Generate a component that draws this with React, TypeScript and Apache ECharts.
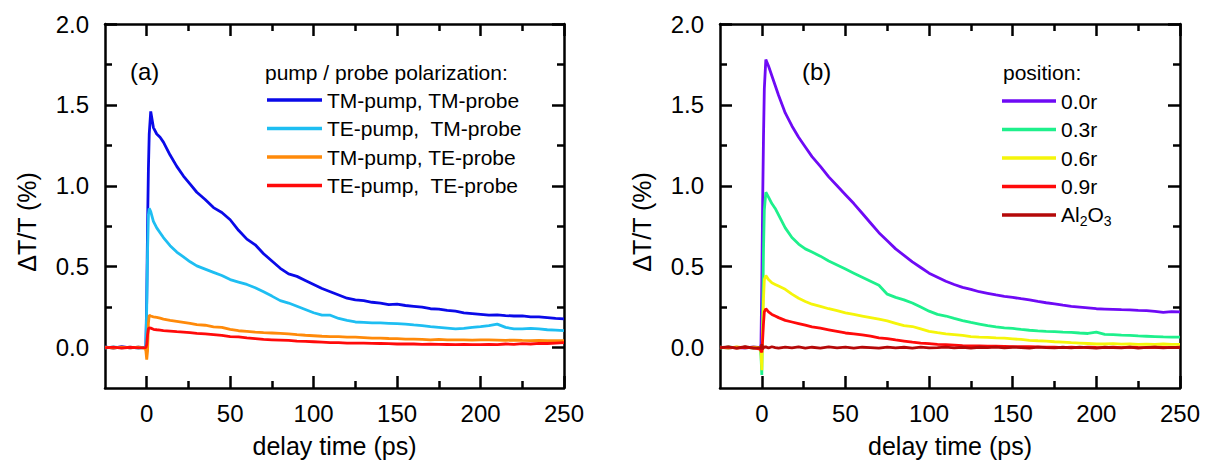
import React, { useEffect, useRef } from "react";
import * as echarts from "echarts";

const FONT = '"Liberation Sans", Arial, Helvetica, sans-serif';

// delay time grid (ps), shared by all curves
const delayTime = [
  -25, -20, -15, -10, -5, -1, -0.5, 0, 0.5, 1, 1.5, 2.4,
  4, 6, 8, 10, 14, 18, 22, 26, 30,
  35, 40, 45, 50, 55, 60, 65, 70, 75, 80,
  85, 90, 95, 100, 105, 110, 115, 120, 125, 130,
  135, 140, 145, 150, 155, 160, 165, 170, 175, 180,
  185, 190, 195, 200, 205, 210, 215, 220, 225, 230,
  235, 240, 245, 250,
];

// panel (a): pump / probe polarization, ΔT/T (%)
const tmPumpTmProbe = [
  0.004, -0.003, 0.005, -0.002, 0.003, 0.0, 0.01, 0.3, 0.75, 1.1, 1.32, 1.46,
  1.36, 1.32, 1.3, 1.27, 1.19, 1.12, 1.06, 1.01, 0.96,
  0.915, 0.865, 0.835, 0.79, 0.725, 0.67, 0.635, 0.58, 0.535, 0.49,
  0.455, 0.44, 0.415, 0.39, 0.365, 0.345, 0.325, 0.305, 0.295, 0.29,
  0.28, 0.275, 0.265, 0.268, 0.26, 0.255, 0.25, 0.24, 0.238, 0.23,
  0.225, 0.215, 0.21, 0.205, 0.2, 0.202, 0.198, 0.195, 0.196, 0.19,
  0.19, 0.185, 0.18, 0.177,
];
const tePumpTmProbe = [
  -0.003, 0.004, -0.002, 0.003, -0.004, 0.0, 0.01, 0.25, 0.6, 0.82, 0.86, 0.84,
  0.78, 0.74, 0.71, 0.68, 0.63, 0.59, 0.56, 0.53, 0.505,
  0.485, 0.465, 0.445, 0.42, 0.405, 0.39, 0.37, 0.345, 0.318, 0.29,
  0.275, 0.255, 0.235, 0.215, 0.2, 0.2, 0.18, 0.168, 0.158, 0.156,
  0.153, 0.152, 0.15, 0.148, 0.145, 0.14, 0.136, 0.13, 0.125, 0.12,
  0.115, 0.118, 0.125, 0.13, 0.136, 0.145, 0.125, 0.115, 0.115, 0.118,
  0.115, 0.11, 0.108, 0.105,
];
const tmPumpTeProbe = [
  0.002, -0.004, 0.003, -0.002, 0.002, -0.005, -0.02, -0.075, -0.02, 0.15, 0.2, 0.195,
  0.19, 0.186, 0.182, 0.176, 0.168, 0.162, 0.156, 0.15, 0.142,
  0.138, 0.128, 0.125, 0.112, 0.104, 0.1, 0.095, 0.092, 0.09, 0.088,
  0.085, 0.08, 0.076, 0.073, 0.07, 0.068, 0.067, 0.065, 0.064, 0.062,
  0.058, 0.058, 0.056, 0.055, 0.052, 0.052, 0.05, 0.048, 0.05, 0.048,
  0.047, 0.048, 0.046, 0.048, 0.047, 0.046, 0.045, 0.046, 0.044, 0.043,
  0.044, 0.042, 0.043, 0.042,
];
const tePumpTeProbe = [
  -0.002, 0.003, -0.003, 0.002, -0.002, 0.0, 0.0, 0.02, 0.08, 0.115, 0.122, 0.12,
  0.113, 0.11, 0.108, 0.105, 0.102, 0.098, 0.095, 0.092, 0.088,
  0.085, 0.08, 0.075, 0.068, 0.066, 0.06, 0.055, 0.05, 0.048, 0.046,
  0.044, 0.04, 0.038, 0.036, 0.033, 0.03, 0.03, 0.028, 0.027, 0.027,
  0.026, 0.025, 0.024, 0.022, 0.022, 0.022, 0.02, 0.021, 0.02, 0.019,
  0.018, 0.019, 0.018, 0.018, 0.02, 0.018, 0.022, 0.02, 0.024, 0.022,
  0.026, 0.025, 0.028, 0.03,
];

// panel (b): position, ΔT/T (%)
const pos00r = [
  0.003, -0.004, 0.002, -0.003, 0.004, 0.0, 0.02, 0.4, 0.9, 1.3, 1.6, 1.78,
  1.74, 1.68, 1.62, 1.56, 1.45, 1.37, 1.3, 1.24, 1.18,
  1.12, 1.055, 1.0, 0.945, 0.89, 0.83, 0.77, 0.71, 0.66, 0.61,
  0.57, 0.53, 0.495, 0.46, 0.435, 0.41, 0.39, 0.372, 0.36, 0.345,
  0.335, 0.325, 0.317, 0.31, 0.302, 0.295, 0.285, 0.277, 0.27, 0.262,
  0.255, 0.25, 0.245, 0.24, 0.238, 0.236, 0.234, 0.233, 0.23, 0.228,
  0.224, 0.218, 0.222, 0.22,
];
const pos03r = [
  -0.003, 0.004, -0.002, 0.003, -0.003, 0.0, -0.05, -0.17, 0.2, 0.6, 0.85, 0.96,
  0.93, 0.89, 0.86, 0.82, 0.74, 0.68, 0.64, 0.61, 0.59,
  0.565, 0.535, 0.51, 0.485, 0.46, 0.435, 0.41, 0.385, 0.33, 0.31,
  0.295, 0.275, 0.25, 0.225, 0.205, 0.195, 0.18, 0.167, 0.155, 0.145,
  0.135, 0.128, 0.122, 0.118, 0.112, 0.107, 0.103, 0.1, 0.098, 0.095,
  0.094, 0.09, 0.087, 0.095, 0.082, 0.08, 0.077, 0.075, 0.072, 0.07,
  0.068, 0.066, 0.065, 0.064,
];
const pos06r = [
  0.002, -0.003, 0.004, -0.002, 0.003, 0.0, -0.03, -0.14, 0.1, 0.3, 0.42, 0.445,
  0.42, 0.4, 0.39, 0.38, 0.36, 0.33, 0.305, 0.285, 0.268,
  0.255, 0.24, 0.228, 0.215, 0.205, 0.195, 0.185, 0.175, 0.165, 0.15,
  0.135, 0.13, 0.115, 0.1, 0.092, 0.085, 0.08, 0.075, 0.068, 0.065,
  0.063, 0.06, 0.058, 0.054, 0.05, 0.045, 0.042, 0.04, 0.036, 0.034,
  0.03, 0.028, 0.025, 0.022, 0.022, 0.024, 0.021, 0.022, 0.02, 0.021,
  0.02, 0.022, 0.02, 0.02,
];
const pos09r = [
  -0.002, 0.003, -0.003, 0.002, -0.002, -0.01, -0.02, -0.03, 0.05, 0.15, 0.22, 0.24,
  0.22, 0.205, 0.195, 0.185, 0.168, 0.158, 0.148, 0.138, 0.128,
  0.12, 0.11, 0.1, 0.09, 0.085, 0.078, 0.07, 0.06, 0.055, 0.047,
  0.04, 0.033, 0.028, 0.024, 0.02, 0.018, 0.015, 0.012, 0.011, 0.01,
  0.009, 0.008, 0.007, 0.006, 0.006, 0.005, 0.004, 0.003, 0.002, 0.0,
  0.002, 0.0, 0.003, 0.001, 0.0, 0.002, 0.0, 0.003, 0.001, 0.0,
  0.002, 0.001, 0.0, 0.002,
];
const al2o3 = [
  0.0, 0.004, -0.003, 0.005, -0.004, 0.0, -0.01, 0.02, -0.012, 0.008, 0.0, 0.004,
  -0.003, 0.005, 0.0, -0.004, 0.003, -0.002, 0.004, -0.003, 0.002,
  -0.003, 0.004, -0.002, 0.003, -0.004, 0.002, 0.0, -0.003, 0.003, -0.002,
  0.002, -0.003, 0.003, -0.002, 0.0, 0.003, -0.002, 0.002, -0.003, 0.002,
  0.0, 0.003, -0.002, 0.002, 0.0, -0.003, 0.003, 0.0, -0.002, 0.002,
  -0.002, 0.003, 0.0, -0.003, 0.002, 0.0, -0.002, 0.003, -0.003, 0.001,
  0.002, -0.002, 0.001, 0.0,
];

const xMajorTicks = [0, 50, 100, 150, 200, 250];
const xMinorTicks = [25, 75, 125, 175, 225];
const yMajorTicks = [0, 0.5, 1.0, 1.5, 2.0];
const yMinorTicks = [0.25, 0.75, 1.25, 1.75];

const seriesA = [
  { name: "TM-pump, TM-probe", values: tmPumpTmProbe, color: "#0a0ae8" },
  { name: "TE-pump,  TM-probe", values: tePumpTmProbe, color: "#1ebef2" },
  { name: "TM-pump, TE-probe", values: tmPumpTeProbe, color: "#ff8a0a" },
  { name: "TE-pump,  TE-probe", values: tePumpTeProbe, color: "#ff0a0a" },
];
const seriesB = [
  { name: "0.0r", values: pos00r, color: "#6e0af5" },
  { name: "0.3r", values: pos03r, color: "#1ef08c" },
  { name: "0.6r", values: pos06r, color: "#f5f50a" },
  { name: "0.9r", values: pos09r, color: "#ff0a0a" },
  { name: "Al2O3", values: al2o3, color: "#b40808" },
];

const AX = { color: "#000", width: 2.5 };
const TICK_FONT = 24;
const NAME_FONT = 25;
const LEG_FONT = 21;

function xAxesFor(gridIndex: number) {
  const base = { gridIndex, type: "value", min: -25, max: 250, splitLine: { show: false } };
  return [
    {
      ...base,
      position: "bottom",
      axisLine: { show: true, onZero: false, lineStyle: AX },
      axisTick: { show: true, inside: true, length: 12, customValues: xMajorTicks, lineStyle: AX },
      axisLabel: {
        customValues: xMajorTicks,
        margin: 13,
        fontSize: TICK_FONT,
        color: "#000",
        fontFamily: FONT,
      },
      name: "delay time (ps)",
      nameLocation: "middle",
      nameGap: 45,
      nameTextStyle: { fontSize: NAME_FONT, color: "#000", fontFamily: FONT },
    },
    {
      ...base,
      position: "bottom",
      axisLine: { show: false, onZero: false },
      axisTick: { show: true, inside: true, length: 7, customValues: xMinorTicks, lineStyle: AX },
      axisLabel: { show: false },
    },
    {
      ...base,
      position: "top",
      axisLine: { show: true, onZero: false, lineStyle: AX },
      axisTick: { show: true, inside: true, length: 12, customValues: xMajorTicks, lineStyle: AX },
      axisLabel: { show: false },
    },
    {
      ...base,
      position: "top",
      axisLine: { show: false, onZero: false },
      axisTick: { show: true, inside: true, length: 7, customValues: xMinorTicks, lineStyle: AX },
      axisLabel: { show: false },
    },
  ];
}

function yAxesFor(gridIndex: number) {
  const base = { gridIndex, type: "value", min: -0.25, max: 2.0, splitLine: { show: false } };
  return [
    {
      ...base,
      position: "left",
      axisLine: { show: true, onZero: false, lineStyle: AX },
      axisTick: { show: true, inside: true, length: 12, customValues: yMajorTicks, lineStyle: AX },
      axisLabel: {
        customValues: yMajorTicks,
        margin: 16,
        fontSize: TICK_FONT,
        color: "#000",
        fontFamily: FONT,
        formatter: (v: number) => v.toFixed(1),
      },
    },
    {
      ...base,
      position: "left",
      axisLine: { show: false, onZero: false },
      axisTick: { show: true, inside: true, length: 7, customValues: yMinorTicks, lineStyle: AX },
      axisLabel: { show: false },
    },
    {
      ...base,
      position: "right",
      axisLine: { show: true, onZero: false, lineStyle: AX },
      axisTick: { show: true, inside: true, length: 12, customValues: yMajorTicks, lineStyle: AX },
      axisLabel: { show: false },
    },
    {
      ...base,
      position: "right",
      axisLine: { show: false, onZero: false },
      axisTick: { show: true, inside: true, length: 7, customValues: yMinorTicks, lineStyle: AX },
      axisLabel: { show: false },
    },
  ];
}

function lineSeries(s: { name: string; values: number[]; color: string }, axisIndex: number) {
  return {
    type: "line",
    name: s.name,
    xAxisIndex: axisIndex,
    yAxisIndex: axisIndex,
    data: delayTime.map((t, i) => [t, s.values[i]]),
    showSymbol: false,
    symbol: "none",
    clip: true,
    color: s.color,
    lineStyle: { color: s.color, width: 2.8 },
  };
}

const legendText = {
  fontSize: LEG_FONT,
  lineHeight: 22,
  color: "#000",
  fontFamily: FONT,
  rich: {
    n: { fontSize: LEG_FONT, lineHeight: 22, color: "#000", fontFamily: FONT, verticalAlign: "top" },
    s: { fontSize: 14, lineHeight: 14, color: "#000", fontFamily: FONT, verticalAlign: "top", padding: [10, 0, 0, 0] },
  },
};

const plainTitle = (text: string, left: number, top: number, size: number) => ({
  text,
  left,
  top,
  padding: 0,
  textStyle: { fontSize: size, fontWeight: "normal", color: "#000", fontFamily: FONT },
});

const yName = (x: number) => ({
  type: "text",
  x,
  y: 222,
  rotation: Math.PI / 2,
  style: {
    text: "ΔT/T (%)",
    fontSize: NAME_FONT,
    fontFamily: FONT,
    fill: "#000",
    align: "center",
    verticalAlign: "middle",
  },
});

export default function App() {
  const ref = useRef<HTMLDivElement>(null);
  useEffect(() => {
    if (!ref.current) return;
    const chart = echarts.init(ref.current, null, { renderer: "svg" });
    chart.setOption({
      animation: false,
      backgroundColor: "#fff",
      textStyle: { fontFamily: FONT },
      grid: [
        { left: 105, top: 24, width: 459, height: 364 },
        { left: 720, top: 24, width: 460, height: 364 },
      ],
      xAxis: [...xAxesFor(0), ...xAxesFor(1)],
      yAxis: [...yAxesFor(0), ...yAxesFor(1)],
      title: [
        plainTitle("(a)", 130, 59, 24),
        plainTitle("pump / probe polarization:", 265, 62, LEG_FONT),
        plainTitle("(b)", 802, 59, 24),
        plainTitle("position:", 1003, 62, LEG_FONT),
      ],
      graphic: [yName(27), yName(642)],
      legend: [
        {
          data: seriesA.map((s) => s.name),
          left: 267,
          top: 89,
          padding: 0,
          orient: "vertical",
          icon: "rect",
          itemWidth: 55,
          itemHeight: 3.5,
          itemGap: 6.5,
          selectedMode: false,
          textStyle: legendText,
        },
        {
          data: seriesB.map((s) => s.name),
          left: 1002,
          top: 90,
          padding: 0,
          orient: "vertical",
          icon: "rect",
          itemWidth: 54,
          itemHeight: 3.5,
          itemGap: 6.5,
          selectedMode: false,
          formatter: (name: string) => (name === "Al2O3" ? "{n|Al}{s|2}{n|O}{s|3}" : name),
          textStyle: legendText,
        },
      ],
      series: [
        ...seriesA.map((s) => lineSeries(s, 0)),
        ...seriesB.map((s) => lineSeries(s, 4)),
      ],
    });
    return () => chart.dispose();
  }, []);
  return (
    <div
      ref={ref}
      style={{ position: "fixed", left: 0, top: 0, width: 1215, height: 464, background: "#fff" }}
    />
  );
}
